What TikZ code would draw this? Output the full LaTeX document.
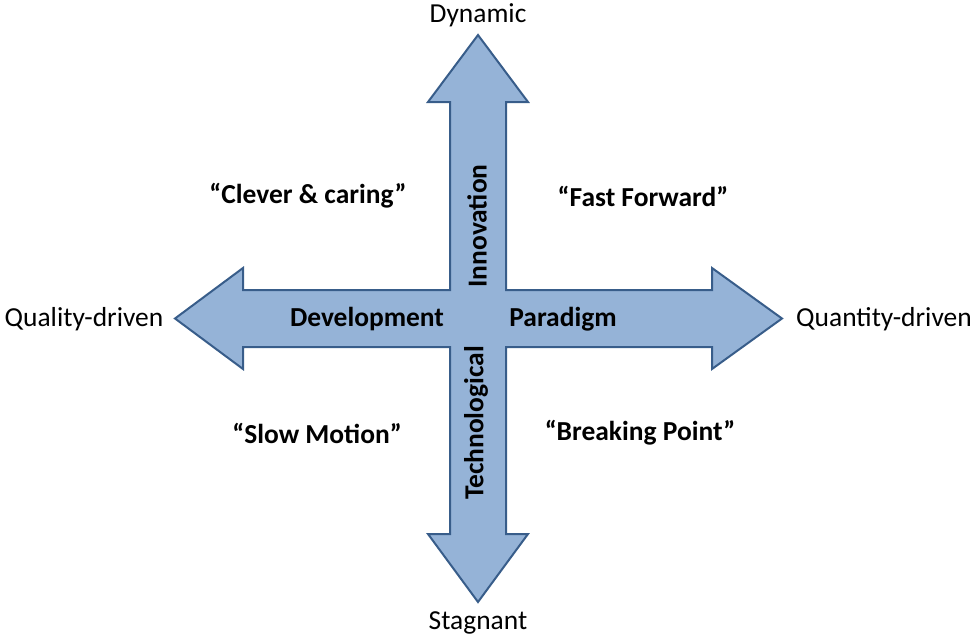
\documentclass[tikz,border=0pt]{standalone}
\usepackage{fontspec}
\setmainfont{Carlito}
\usepackage{tikz}
\usetikzlibrary{positioning}
\usepackage{xcolor}
\definecolor{crossfill}{RGB}{149,179,215}
\definecolor{crossline}{RGB}{56,93,138}
\tikzstyle{axislabel} = [inner sep=0pt, text centered, font=\fontsize{20.6}{24}\selectfont]
\tikzstyle{bandlabel} = [inner sep=0pt, text centered, font=\fontsize{20.6}{24}\selectfont\bfseries]
\tikzstyle{scenario} = [inner sep=0pt, text centered, font=\fontsize{20.6}{24}\selectfont\bfseries]
\tikzstyle{cross} = [fill=crossfill, draw=crossline, line width=1.5pt, line join=miter]

\begin{document}
\begin{tikzpicture}[x=0.75pt, y=-0.75pt]
\useasboundingbox (0,0) rectangle (976,639);

% four-way arrow
\draw[cross] (478,35) -- (528,102) -- (506,102) -- (506,290) -- (712,290) -- (712,268)
  -- (782,318.5) -- (712,369) -- (712,347) -- (506,347) -- (506,534) -- (528,534)
  -- (478,602) -- (428,534) -- (450,534) -- (450,347) -- (243,347) -- (243,369)
  -- (175,318.5) -- (243,268) -- (243,290) -- (450,290) -- (450,102) -- (428,102) -- cycle;

% axis ends
\node (dynamic) [axislabel] at (478,15) {Dynamic};
\node (stagnant) [axislabel] at (478,623) {Stagnant};
\node (quality) [axislabel] at (84,319) {Quality-driven};
\node (quantity) [axislabel] at (884,319) {Quantity-driven};

% labels on the arrow
\node (development) [bandlabel] at (367,319) {Development};
\node (paradigm) [bandlabel] at (563,319) {Paradigm};
\node (innovation) [bandlabel, rotate=90] at (477,226) {Innovation};
\node (technological) [bandlabel, rotate=90] at (476,423) {Technological};

% quadrants
\node (clever) [scenario] at (308,196) {“Clever \& caring”};
\node (fast) [scenario] at (643,196) {“Fast Forward”};
\node (slow) [scenario] at (317,433) {“Slow Motion”};
\node (breaking) [scenario] at (640,433) {“Breaking Point”};
\end{tikzpicture}
\end{document}
